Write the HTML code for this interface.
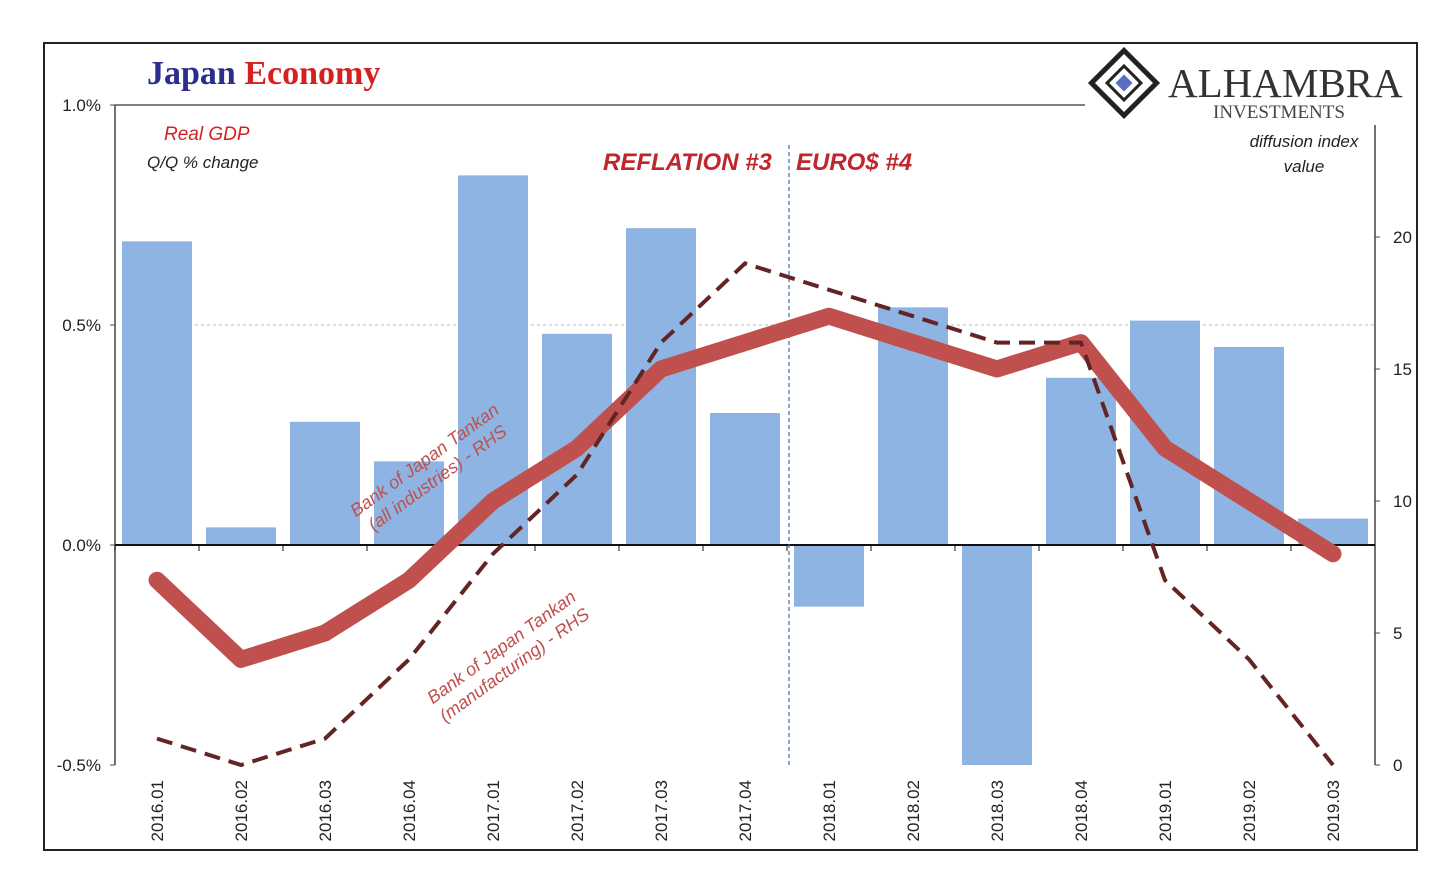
<!DOCTYPE html>
<html><head><meta charset="utf-8"><style>
body{margin:0;background:#fff;}
svg{display:block;font-family:"Liberation Sans",sans-serif;}
</style></head><body>
<svg id="chart" width="1452" height="876">
<rect x="44" y="43" width="1373" height="807" fill="#fff" stroke="#222" stroke-width="2"/>
<text x="147" y="84" font-family="Liberation Serif,serif" font-size="34" font-weight="bold" fill="#2a2f8c">Japan <tspan fill="#d62020">Economy</tspan></text>
<line x1="115" y1="105" x2="1085" y2="105" stroke="#555" stroke-width="1.5"/>
<g>
<rect x="1101" y="60" width="46" height="46" transform="rotate(45 1124 83)" fill="none" stroke="#222" stroke-width="5"/>
<rect x="1112" y="71" width="24" height="24" transform="rotate(45 1124 83)" fill="none" stroke="#222" stroke-width="3"/>
<rect x="1118" y="77" width="12" height="12" transform="rotate(45 1124 83)" fill="#5a6fc4"/>
<text x="1168" y="97" font-family="Liberation Serif,serif" font-size="41" fill="#333">ALHAMBRA</text>
<text x="1213" y="118" font-family="Liberation Serif,serif" font-size="19" fill="#444">INVESTMENTS</text>
</g>
<text x="164" y="140" font-size="19" font-style="italic" fill="#d62020">Real GDP</text>
<text x="147" y="168" font-size="17" font-style="italic" fill="#222">Q/Q % change</text>
<text x="1304" y="147" font-size="17" font-style="italic" fill="#222" text-anchor="middle">diffusion index</text>
<text x="1304" y="172" font-size="17" font-style="italic" fill="#222" text-anchor="middle">value</text>
<text x="603" y="170" font-size="24" font-weight="bold" font-style="italic" fill="#c0272d">REFLATION #3</text>
<text x="796" y="170" font-size="24" font-weight="bold" font-style="italic" fill="#c0272d">EURO$ #4</text>
<g id="plot"></g>
</svg>
<script>
const categories=["2016.01","2016.02","2016.03","2016.04","2017.01","2017.02","2017.03","2017.04","2018.01","2018.02","2018.03","2018.04","2019.01","2019.02","2019.03"];
const gdpValues=[0.69,0.04,0.28,0.19,0.84,0.48,0.72,0.30,-0.14,0.54,-0.5,0.38,0.51,0.45,0.06];
const tankanAll=[7,4,5,7,10,12,15,16,17,16,15,16,12,10,8];
const tankanMfg=[1,0,1,4,8,11,16,19,18,17,16,16,7,4,0];
const leftTicks=[1.0,0.5,0.0,-0.5];
const leftTickLabels=["1.0%","0.5%","0.0%","-0.5%"];
const rightTicks=[0,5,10,15,20];
const NS="http://www.w3.org/2000/svg";
const g=document.getElementById("plot");
const X0=115,X1=1375,step=(X1-X0)/categories.length;
const xc=i=>X0+step*(i+0.5);
const yL=v=>545-v*440;
const yR=v=>765-v*26.4;
function mk(t,a,p){const e=document.createElementNS(NS,t);for(const k in a)e.setAttribute(k,a[k]);(p||g).appendChild(e);return e;}
// grid 0.5
let e=mk("line",{x1:195,y1:yL(0.5),x2:X1,y2:yL(0.5),stroke:"#bbb","stroke-dasharray":"3,3"});


// bars
gdpValues.forEach((v,i)=>{
 const vv=Math.max(v,-0.5);
 const r=mk("rect",{x:xc(i)-35,y:Math.min(yL(vv),yL(0)),width:70,height:Math.abs(yL(vv)-yL(0)),fill:"#8db4e2"});
 
 
});
// axes
e=mk("line",{x1:X0,y1:105,x2:X0,y2:765,stroke:"#444","stroke-width":1.5});


e=mk("line",{x1:X1,y1:125,x2:X1,y2:765,stroke:"#444","stroke-width":1.5});


e=mk("line",{x1:X0,y1:yL(0),x2:X1,y2:yL(0),stroke:"#111","stroke-width":2});


categories.forEach((c,i)=>{
 mk("line",{x1:X0+step*i,y1:545,x2:X0+step*i,y2:551,stroke:"#111"});
 const t=mk("text",{x:0,y:0,"font-size":17,fill:"#222","text-anchor":"end",transform:`translate(${xc(i)+6},${780}) rotate(-90)`});
 t.textContent=c;
 
 
});
leftTicks.forEach((v,i)=>{
 mk("line",{x1:X0-5,y1:yL(v),x2:X0,y2:yL(v),stroke:"#444"});
 const t=mk("text",{x:X0-14,y:yL(v)+6,"font-size":17,fill:"#222","text-anchor":"end"});
 t.textContent=leftTickLabels[i];
 
 
});
rightTicks.forEach(v=>{
 mk("line",{x1:X1,y1:yR(v),x2:X1+5,y2:yR(v),stroke:"#444"});
 const t=mk("text",{x:X1+18,y:yR(v)+6,"font-size":17,fill:"#222"});
 t.textContent=v;
 
 
});
// vertical divider
e=mk("line",{x1:X0+step*8+2,y1:145,x2:X0+step*8+2,y2:765,stroke:"#3a6aa8","stroke-dasharray":"4,3","stroke-width":1.2});


// lines
e=mk("polyline",{points:tankanAll.map((v,i)=>xc(i)+","+yR(v)).join(" "),fill:"none",stroke:"#c0504d","stroke-width":17,"stroke-linejoin":"round","stroke-linecap":"round"});


e=mk("polyline",{points:tankanMfg.map((v,i)=>xc(i)+","+yR(v)).join(" "),fill:"none",stroke:"#632423","stroke-width":4,"stroke-dasharray":"16,9"});


// annotations
function ann(x,y,lines,name){
 const t=mk("text",{transform:`translate(${x},${y}) rotate(-36)`,"font-size":18,"font-style":"italic",fill:"#c0504d","text-anchor":"middle"});
 lines.forEach((s,k)=>{const sp=mk("tspan",{x:0,dy:k?22:0},t);sp.textContent=s;});
 
 
}
ann(428,465,["Bank of Japan Tankan","(all industries) - RHS"],'all-industries-annotation');
ann(505,652,["Bank of Japan Tankan","(manufacturing) - RHS"],'manufacturing-annotation');
</script>
</body></html>
